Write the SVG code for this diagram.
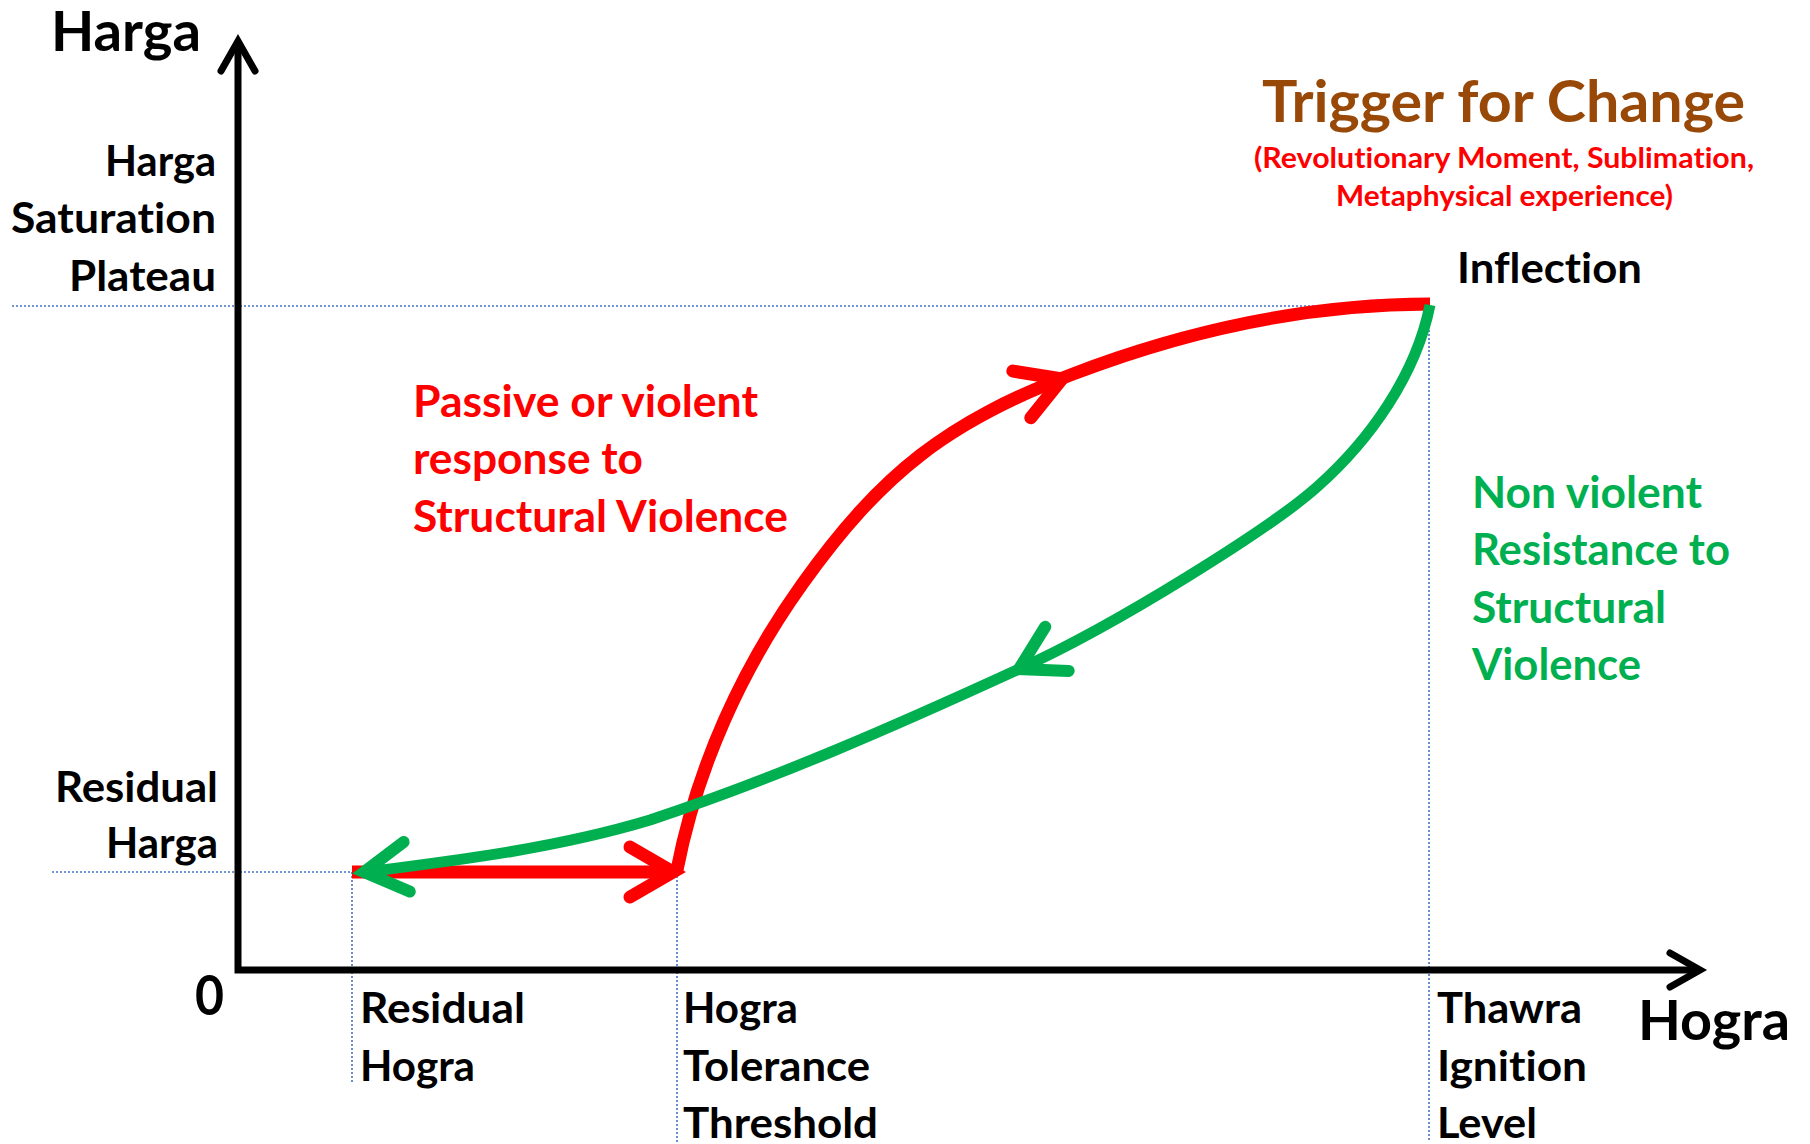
<svg xmlns="http://www.w3.org/2000/svg" xmlns:xlink="http://www.w3.org/1999/xlink" width="1810" height="1144" viewBox="0 0 1810 1144">
<style>
text{font-family:Lato,"Open Sans","Liberation Sans",sans-serif;font-weight:bold;font-variant-ligatures:none;font-feature-settings:"liga" 0,"clig" 0}
.lbl{font-size:42px;fill:#000}
.big{font-size:55px;fill:#000}
.red{font-size:43px;fill:#FF0000}
.grn{font-size:43px;fill:#00B050}
.sub{font-size:28px;fill:#FF0000}
.guide{fill:none;stroke:#4472C4;stroke-width:1.6;stroke-dasharray:2 2}
.axis{fill:none;stroke:#000;stroke-width:7}
.ax-head{fill:none;stroke:#000;stroke-width:7;stroke-linecap:round;stroke-linejoin:miter}
.rc{fill:none;stroke:#FF0000;stroke-width:13;stroke-linecap:butt;stroke-linejoin:round}
.gc{fill:none;stroke:#00B050;stroke-width:11;stroke-linecap:butt;stroke-linejoin:round}
.rh{fill:none;stroke:#FF0000;stroke-width:13;stroke-linecap:round;stroke-linejoin:miter}
.gh{fill:none;stroke:#00B050;stroke-width:12;stroke-linecap:round;stroke-linejoin:miter}
</style>
<defs>
<path id="chev" d="M -43,-25 L 0,0 L -43,25"/>
<path id="axchev" d="M -30,-17 L 0,0 L -30,17"/>
</defs>
<rect width="1810" height="1144" fill="#fff"/>

<g id="guides">
<path class="guide" d="M 12,306 H 1429"/>
<path class="guide" d="M 52,872 H 352"/>
<path class="guide" d="M 352,872 V 1082"/>
<path class="guide" d="M 677,872 V 1144"/>
<path class="guide" d="M 1429,306 V 1140"/>
</g>

<g id="axes">
<path class="axis" d="M 238,44 V 970 H 1698"/>
<use xlink:href="#axchev" class="ax-head" transform="translate(238,41) rotate(-90)"/>
<use xlink:href="#axchev" class="ax-head" transform="translate(1700,970)"/>
</g>

<g id="connectors">
<g id="red-path">
<path class="rc" d="M 352,872 H 670"/>
<use xlink:href="#chev" class="rh" transform="translate(673,872)"/>
<path class="rc" d="M 677,870 C 697,767 742,668 803,583 C 882,473 947,422 1073,374 C 1185,331 1308,304 1430,304"/>
<use xlink:href="#chev" class="rh" transform="translate(1062,379) rotate(-21)"/>
</g>
<g id="green-path">
<path class="gc" d="M 1430,305 C 1416,375 1370,440 1317,487 C 1272,527 1117,625 1017,670 C 897,725 777,778 650,820 C 557,848 460,860 366,872"/>
<use xlink:href="#chev" class="gh" transform="translate(1019,669) rotate(152)"/>
<use xlink:href="#chev" class="gh" transform="translate(364,872) rotate(173)"/>
</g>
</g>

<g id="y-axis-title"><text class="big" x="51" y="51" textLength="150" lengthAdjust="spacingAndGlyphs">Harga</text></g>
<g id="x-axis-title"><text class="big" x="1638" y="1040" textLength="152" lengthAdjust="spacingAndGlyphs">Hogra</text></g>
<g id="origin"><text class="big" x="195" y="1015" textLength="29" lengthAdjust="spacingAndGlyphs">0</text></g>

<g id="saturation-label">
<text class="lbl" x="105" y="176" textLength="111" lengthAdjust="spacingAndGlyphs">Harga</text>
<text class="lbl" x="11" y="233" textLength="205" lengthAdjust="spacingAndGlyphs">Saturation</text>
<text class="lbl" x="69" y="291" textLength="147" lengthAdjust="spacingAndGlyphs">Plateau</text>
</g>
<g id="residual-harga-label">
<text class="lbl" x="55" y="802" textLength="163" lengthAdjust="spacingAndGlyphs">Residual</text>
<text class="lbl" x="106" y="858" textLength="112" lengthAdjust="spacingAndGlyphs">Harga</text>
</g>
<g id="residual-hogra-label">
<text class="lbl" x="360" y="1023" textLength="165" lengthAdjust="spacingAndGlyphs">Residual</text>
<text class="lbl" x="360" y="1081" textLength="115" lengthAdjust="spacingAndGlyphs">Hogra</text>
</g>
<g id="tolerance-label">
<text class="lbl" x="683" y="1023" textLength="115" lengthAdjust="spacingAndGlyphs">Hogra</text>
<text class="lbl" x="683" y="1081" textLength="187" lengthAdjust="spacingAndGlyphs">Tolerance</text>
<text class="lbl" x="683" y="1138" textLength="195" lengthAdjust="spacingAndGlyphs">Threshold</text>
</g>
<g id="ignition-label">
<text class="lbl" x="1437" y="1023" textLength="145" lengthAdjust="spacingAndGlyphs">Thawra</text>
<text class="lbl" x="1437" y="1081" textLength="150" lengthAdjust="spacingAndGlyphs">Ignition</text>
<text class="lbl" x="1437" y="1138" textLength="100" lengthAdjust="spacingAndGlyphs">Level</text>
</g>
<g id="inflection-label">
<text class="lbl" x="1457" y="283" textLength="185" lengthAdjust="spacingAndGlyphs">Inflection</text>
</g>
<g id="trigger-label">
<text x="1262" y="122" textLength="483" lengthAdjust="spacingAndGlyphs" style="font-size:57px;fill:#984807">Trigger for Change</text>
<text class="sub" x="1254" y="168" textLength="500" lengthAdjust="spacingAndGlyphs">(Revolutionary Moment, Sublimation,</text>
<text class="sub" x="1336" y="206" textLength="337" lengthAdjust="spacingAndGlyphs">Metaphysical experience)</text>
</g>
<g id="passive-label">
<text class="red" x="413" y="417" textLength="345" lengthAdjust="spacingAndGlyphs">Passive or violent</text>
<text class="red" x="413" y="474" textLength="230" lengthAdjust="spacingAndGlyphs">response to</text>
<text class="red" x="413" y="532" textLength="375" lengthAdjust="spacingAndGlyphs">Structural Violence</text>
</g>
<g id="nonviolent-label">
<text class="grn" x="1472" y="508" textLength="230" lengthAdjust="spacingAndGlyphs">Non violent</text>
<text class="grn" x="1472" y="565" textLength="258" lengthAdjust="spacingAndGlyphs">Resistance to</text>
<text class="grn" x="1472" y="623" textLength="194" lengthAdjust="spacingAndGlyphs">Structural</text>
<text class="grn" x="1472" y="680" textLength="169" lengthAdjust="spacingAndGlyphs">Violence</text>
</g>
</svg>
